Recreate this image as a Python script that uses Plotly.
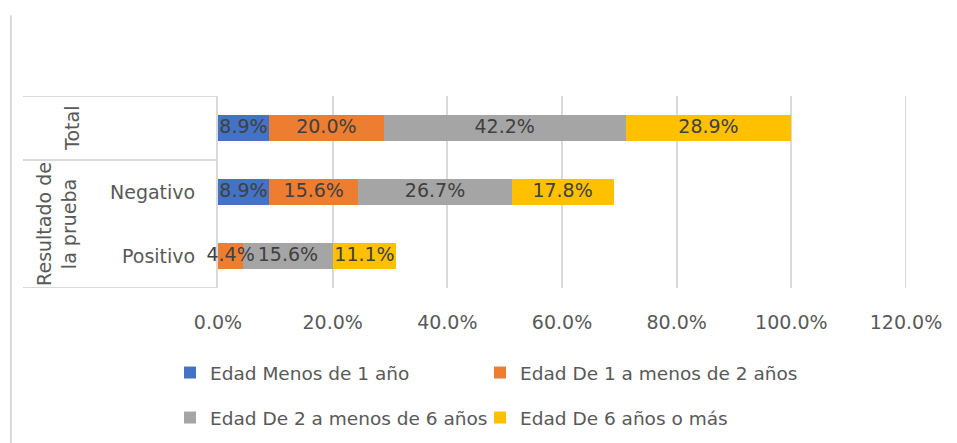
import plotly.graph_objects as go

# categories bottom -> top
categories = ["Positivo", "Negativo", "Total"]
tick_labels = ["Positivo", "Negativo", ""]

series_names = [
    "Edad Menos de 1 año",
    "Edad De 1 a menos de 2 años",
    "Edad De 2 a menos de 6 años",
    "Edad De 6 años o más",
]
menos_1 = [0.0, 0.089, 0.089]
de_1_a_2 = [0.044, 0.156, 0.200]
de_2_a_6 = [0.156, 0.267, 0.422]
de_6_mas = [0.111, 0.178, 0.289]

x_max = 1.2
colors = ["#4472C4", "#ED7D31", "#A5A5A5", "#FFC000"]
FONT = "DejaVu Sans"
LINE = "#D9D9D9"
PW = 687.6  # plot width in px
H = 443


def px_x(p):
    return (p - 218) / PW


fig = go.Figure()
all_values = [menos_1, de_1_a_2, de_2_a_6, de_6_mas]
legend_ids = ["legend", "legend2", "legend3", "legend4"]
for i, (name, vals) in enumerate(zip(series_names, all_values)):
    fig.add_trace(go.Bar(
        y=categories,
        x=vals,
        name=name,
        orientation="h",
        marker=dict(color=colors[i], line=dict(width=0)),
        legend=legend_ids[i],
    ))

# data labels on top of all bars (centered on each segment)
lab_x, lab_y, lab_t = [], [], []
base = [0.0] * len(categories)
for vals in all_values:
    for j, v in enumerate(vals):
        if v > 0:
            lab_x.append(base[j] + v / 2)
            lab_y.append(categories[j])
            lab_t.append(f"{v*100:.1f}%")
        base[j] += v
fig.add_trace(go.Scatter(
    x=lab_x, y=lab_y, text=lab_t, mode="text", showlegend=False,
    textposition="middle center", cliponaxis=False, hoverinfo="skip",
    textfont=dict(family=FONT, size=19, color="#404040"),
))

# last gridline at the end of the axis
fig.add_shape(type="line", xref="x", yref="paper", x0=x_max, x1=x_max,
              y0=0, y1=1, layer="below", line=dict(color=LINE, width=2))
# category table lines on the left
for yv in [2.5, 1.5, -0.5]:
    fig.add_shape(type="line", xref="paper", yref="y", x0=px_x(23), x1=0,
                  y0=yv, y1=yv, line=dict(color=LINE, width=2))
# chart area left border
fig.add_shape(type="line", xref="paper", yref="paper", x0=px_x(11), x1=px_x(11),
              y0=1.42, y1=-0.81, line=dict(color=LINE, width=2))

fig.add_annotation(text="Total", xref="paper", yref="y", x=px_x(72), y=2,
                   xanchor="center", yanchor="middle",
                   textangle=-90, showarrow=False,
                   font=dict(family=FONT, size=19, color="#595959"))
fig.add_annotation(text="Resultado de<br>la prueba", xref="paper", yref="y",
                   x=px_x(56), y=0.5, xanchor="center", yanchor="middle",
                   textangle=-90, showarrow=False,
                   font=dict(family=FONT, size=19, color="#595959"))

legend_common = dict(
    orientation="h", xanchor="left", yanchor="middle",
    xref="container", yref="container",
    font=dict(family=FONT, size=18.5, color="#595959"),
    bgcolor="rgba(0,0,0,0)",
)
leg_pos = [(170, 373), (480, 373), (170, 418), (480, 418)]
legends = {}
for lid, (lx, ly) in zip(legend_ids, leg_pos):
    legends[lid] = dict(x=lx / 957, y=1 - ly / H, **legend_common)

fig.update_layout(
    width=957, height=H,
    margin=dict(l=218, r=51, t=96, b=155),
    paper_bgcolor="white", plot_bgcolor="white",
    barmode="stack", bargap=0.6,
    xaxis=dict(range=[0, x_max], tickvals=[0, 0.2, 0.4, 0.6, 0.8, 1.0, 1.2],
               tickformat=".1%", showgrid=True,
               gridcolor=LINE, gridwidth=2, zeroline=False, showline=False,
               ticklabelstandoff=21, automargin=False,
               tickfont=dict(family=FONT, size=19, color="#595959")),
    yaxis=dict(categoryorder="array", categoryarray=categories,
               tickvals=categories, ticktext=tick_labels,
               showgrid=False, zeroline=False, showline=True, linecolor=LINE,
               linewidth=2, ticklabelstandoff=17, range=[-0.5, 2.5],
               automargin=False, layer="below traces",
               tickfont=dict(family=FONT, size=19, color="#595959")),
    showlegend=True,
    **legends,
)

fig.write_html("out.html", config={"displayModeBar": False},
               post_script="document.body.style.margin='0';")
